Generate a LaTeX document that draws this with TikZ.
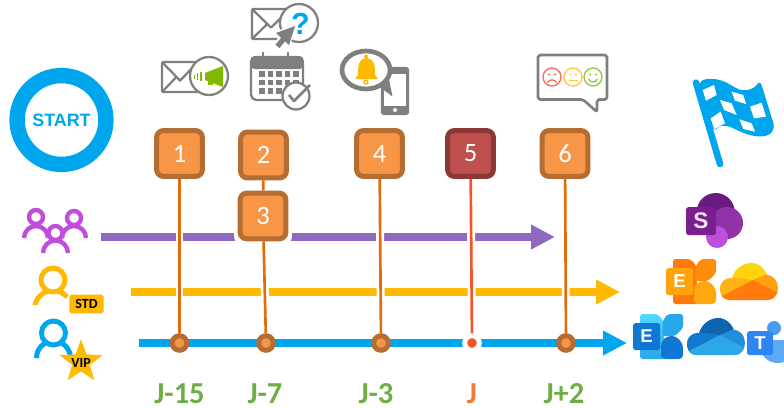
\documentclass[tikz,border=0pt]{standalone}
\usepackage{fontspec}
\setmainfont{Carlito}
\newfontfamily\arialfont{Liberation Sans}
\usetikzlibrary{arrows.meta,backgrounds,shapes.geometric}

\definecolor{startblue}{HTML}{00A6ED}
\definecolor{stdgold}{HTML}{FFB900}
\definecolor{allpurple}{HTML}{8E69BF}
\definecolor{grouppink}{HTML}{BE4FDC}
\definecolor{boxfill}{HTML}{F79646}
\definecolor{boxedge}{HTML}{B66D31}
\definecolor{redfill}{HTML}{C0504D}
\definecolor{rededge}{HTML}{8C3836}
\definecolor{stemorange}{HTML}{E36C0A}
\definecolor{stemred}{HTML}{F5532A}
\definecolor{iconGrey}{HTML}{7F7F7F}
\definecolor{dategreen}{HTML}{70AD47}
\definecolor{dateorange}{HTML}{ED7D31}
\definecolor{hornGreen}{HTML}{7FBA00}
\definecolor{sadRed}{HTML}{F0705A}
\definecolor{midYellow}{HTML}{FFC83D}
\definecolor{happyGreen}{HTML}{92C83E}
\definecolor{siteDark}{HTML}{6A1B82}
\definecolor{siteMid}{HTML}{9332A8}
\definecolor{siteTile}{HTML}{7B1E8E}
\definecolor{orLeft}{HTML}{FF7A0A}
\definecolor{orTop}{HTML}{FF8C0A}
\definecolor{orLow}{HTML}{FFA70F}
\definecolor{orTile}{HTML}{FFA30E}
\definecolor{cloudA}{HTML}{FFD40C}
\definecolor{cloudB}{HTML}{FFB318}
\definecolor{cloudC}{HTML}{FFA012}
\definecolor{cloudD}{HTML}{FF7B0D}
\definecolor{bluLight}{HTML}{50D9FF}
\definecolor{bluTop}{HTML}{28A8EA}
\definecolor{bluLow}{HTML}{0F78D4}
\definecolor{skyA}{HTML}{0F64AE}
\definecolor{skyB}{HTML}{1279CE}
\definecolor{skyC}{HTML}{1F8FDD}
\definecolor{skyD}{HTML}{2CA7E8}
\definecolor{chatHead}{HTML}{4A9AF0}
\definecolor{chatBody}{HTML}{5EAAF5}
\definecolor{chatTile}{HTML}{2F86F2}

\tikzset{
  stepbox/.style={draw=boxedge,fill=boxfill,line width=3.75pt,rounded corners=5pt,
    minimum size=34.5pt,inner sep=0pt,text=white,font=\fontsize{20}{20}\selectfont},
  redbox/.style={stepbox,draw=rededge,fill=redfill},
  haloback/.style={fill=white,rounded corners=6pt,minimum size=43.5pt,inner sep=0pt},
  datedot/.style={circle,draw=boxedge,fill=boxfill,line width=3.75pt,minimum size=11pt,inner sep=0pt},
  reddot/.style={circle,draw=white,fill=stemred,line width=3.75pt,minimum size=11pt,inner sep=0pt,outer sep=0pt},
  stem/.style={line width=2pt,stemorange,preaction={draw=white,line width=6pt}},
  track/.style={line width=6pt},
  datelabel/.style={text=dategreen,inner sep=0pt,font=\fontsize{23}{23}\selectfont\bfseries},
  tagtext/.style={inner sep=0pt,font=\fontsize{10.5}{10.5}\selectfont\bfseries},
  icon/.style={draw=iconGrey,line width=1.7pt,line join=round},
}

% person: x, base y, body radius, end angle, head radius, head y, line width, colour
\newcommand{\usericon}[8]{%
  \draw[#8,line width=#7pt,preaction={draw=white,line width=#7pt+2.5pt}] ({#1-#3},#2) arc (180:#4:#3);
  \draw[#8,line width=#7pt,fill=white] (#1,#6) circle [radius=#5];
}
% envelope with a round badge
\newcommand{\mailicon}[4]{%
  \draw[icon,rounded corners=1pt] (#1,#2) rectangle ({#1+#3},{#2+#4});
  \draw[icon] (#1,#2) -- ({#1+#3/2},{#2+#4*0.62}) -- ({#1+#3},#2);
  \draw[icon] (#1,{#2+#4}) -- ({#1+#3*0.4},{#2+#4*0.5});
}
% smiley
\newcommand{\facemark}[5]{%
  \begin{scope}[shift={(#1,#2)},#3,line width=1pt]
    \draw (0,0) circle [radius=9];
    \fill (-3,-2.5) circle [radius=1.2];
    \fill (3,-2.5) circle [radius=1.2];
    \draw (-4.5,#4) .. controls (-2,#5) and (2,#5) .. (4.5,#4);
  \end{scope}
}
% cloud logo
\newcommand{\cloudlogo}[6]{%
  \begin{scope}[shift={(#1,#2)}]
    \clip (9,37) .. controls (3,37) and (0,31) .. (0,26) .. controls (0,19) and (5,15) .. (12,15)
      .. controls (15,5) and (24,0) .. (31,0) .. controls (39,0) and (44,5) .. (47,12)
      .. controls (53,12) and (58,18) .. (58,25) .. controls (58,32) and (53,37) .. (48,37) -- cycle;
    \fill[#3] (0,0) rectangle (58,37);
    \fill[#4] (0,10) -- (12,14) -- (33,17) -- (0,34) -- cycle;
    \fill[#5] (33,17) -- (47,11) -- (58,15) -- (58,30) -- cycle;
    \fill[#6] (0,34) -- (33,17) -- (58,30) -- (58,37) -- (0,37) -- cycle;
  \end{scope}
}
% mail server logo
\newcommand{\serverlogo}[7]{%
  \begin{scope}[shift={(#1,#2)}]
    \path[#3,rounded corners=2pt] (0,0) -- (17,0) -- (23,6) -- (25,45) -- (0,45) -- cycle;
    \fill[#4,rounded corners=2pt] (23,6) -- (28,0) -- (43,0) -- (43,14) -- (35,22) -- (22,22) -- cycle;
    \fill[#5,rounded corners=3pt] (27,22) -- (36,22) -- (43,30) -- (43,45) -- (21,45) -- (21,28) -- cycle;
    \fill[#6,rounded corners=1.5pt] (-7,9) rectangle (20,36);
    \node[text=white,font=\arialfont\bfseries\fontsize{14}{14}\selectfont] (#7) at (6.5,22.5) {E};
  \end{scope}
}

\begin{document}
\begin{tikzpicture}[x=0.0265cm,y=-0.0265cm,>={Triangle[length=18pt,width=17.5pt]}]
\useasboundingbox (0,0) rectangle (784,407);

% Start
\node[circle,draw=startblue,line width=11.6pt,minimum size=67pt,inner sep=0pt,text=startblue,
  font=\arialfont\bfseries\fontsize{13.5}{13.5}\selectfont] (start) at (61.5,120) {START};

% Step boxes
\node[stepbox] (n1) at (179.5,153.5) {1};
\node[stepbox] (n2) at (263.5,155) {2};
\node[stepbox] (n3) at (263,216) {3};
\node[stepbox] (n4) at (379.5,153.5) {4};
\node[redbox] (n5) at (470.5,153.5) {5};
\node[stepbox] (n6) at (565,153.5) {6};

% Dots on the timeline
\node[datedot] (d1) at (179.5,343) {};
\node[datedot] (d2) at (266,343) {};
\node[datedot] (d4) at (381,343) {};
\node[reddot] (d5) at (472,343) {};
\node[datedot] (d6) at (566,343) {};

% Track ends
\coordinate (groupstart) at (101,237);
\coordinate (groupend) at (555,237);
\coordinate (stdstart) at (131,292);
\coordinate (stdend) at (620,292);
\coordinate (vipstart) at (139,343);
\coordinate (vipend) at (627,343);

\begin{scope}[on background layer]
\draw[track,allpurple,->] (groupstart) -- (groupend);
\draw[track,stdgold,->] (stdstart) -- (stdend);
\draw[track,startblue,->] (vipstart) -- (vipend);
\node[haloback] (halo3) at (263,216) {};
\draw[stem] (n1) -- (d1);
\draw[stem] (n2) -- (n3);
\draw[stem] (n3) -- (d2);
\draw[stem] (n4) -- (d4);
\draw[stem,stemred] (n5) -- (d5);
\draw[stem] (n6) -- (d6);
\end{scope}

% Dates
\node[datelabel] (j15) at (179.5,393.5) {J-15};
\node[datelabel] (j7) at (265,393.5) {J-7};
\node[datelabel] (j3) at (376,393.5) {J-3};
\node[datelabel,text=dateorange] (j0) at (472,393.5) {J};
\node[datelabel] (j2) at (564,393.5) {J+2};

% Users
\usericon{36}{238}{12}{360}{7}{217}{3.3}{grouppink}
\usericon{74}{238}{12}{360}{7}{218}{3.3}{grouppink}
\usericon{55.5}{253}{12.5}{360}{7}{233}{3.3}{grouppink}
\begin{scope}
\clip (20,262) rectangle (110,304);
\usericon{53}{309}{18.5}{320}{12}{280}{3.75}{stdgold}
\end{scope}
\node[fill=stdgold,rounded corners=1.5pt,minimum width=26pt,minimum height=14pt,
  tagtext] (std) at (86.5,304) {STD};
\usericon{53.5}{358}{17}{360}{12}{333}{3.75}{startblue}
\node[star,star points=5,star point ratio=2.4,fill=stdgold,minimum size=34pt,inner sep=0pt] (vipstar) at (81,362) {};
\node[tagtext] (vip) at (81,362.5) {VIP};

% Mail with megaphone
\mailicon{162}{62}{36}{30}
\draw[icon,fill=white] (209,76) circle [radius=19];
\fill[hornGreen] (205,73) -- (223,66) -- (223,87) -- (205,80) -- cycle;
\fill[hornGreen] (208,79) rectangle (213,85);
\draw[hornGreen,line width=1pt] (201,72) -- (201,81) (197.5,73) -- (197.5,80) (194.5,74.5) -- (194.5,78.5);

% Mail with question mark
\mailicon{252}{9}{38}{30}
\draw[icon,fill=white] (299,23) circle [radius=19];
\node[text=startblue,font=\arialfont\bfseries\fontsize{23}{23}\selectfont,inner sep=0pt] (askmark) at (300.5,24) {?};
\fill[white] (273,32) -- (295,25) -- (290,48) -- cycle;
\draw[white,line width=7pt] (283,39) -- (277,47);
\draw[iconGrey,line width=4pt] (285,37) -- (277.5,46.5);
\fill[iconGrey] (295,26) -- (276,33) -- (289,45) -- cycle;

% Calendar
\draw[icon,fill=white,rounded corners=4pt] (251,57) rectangle (303,100);
\fill[iconGrey,rounded corners=3pt] (250.5,56) -- (303.5,56) -- (303.5,69) -- (250.5,69) -- cycle;
\draw[iconGrey,line width=1pt] (263,52) -- (263,58) (288,52) -- (288,58);
\foreach \col in {0,...,4}
  \foreach \row in {0,1,2}
    \fill[iconGrey] ({259+\col*8.6},{71+\row*8.6}) rectangle ++(5.6,5.6);
\draw[icon,fill=white] (296,96) circle [radius=13.5];
\draw[icon,line width=2pt] (289,95) -- (294,101) -- (310,85);

% Bell and phone
\draw[iconGrey,line width=1pt,fill=iconGrey,rounded corners=2pt] (381.5,67.5) rectangle (408.5,114.5);
\fill[white] (384,74) rectangle (406,106);
\fill[white] (395,110) circle [radius=2];
\draw[iconGrey,line width=3.5pt,fill=white] (366,70) ellipse [x radius=24,y radius=19];
\draw[iconGrey,line width=3.5pt,line cap=round] (381,85) -- (389,91) -- (387,81);
\fill[stdgold] (355,79) -- (358,75) .. controls (358,64) and (359,59) .. (366.5,58)
  .. controls (374,59) and (375,64) .. (375,75) -- (378,79) -- cycle;
\fill[stdgold] (366,56.5) circle [radius=2];
\draw[stdgold,line width=1pt] (366,82) circle [radius=2];

% Feedback
\draw[icon,line width=2pt,fill=white,rounded corners=1.5pt] (538,55) -- (607,55) -- (607,99.5) -- (597,99.5)
  -- (597,112) -- (583,99.5) -- (538,99.5) -- cycle;
\facemark{552}{77}{sadRed}{5.5}{2}
\facemark{573}{77}{midYellow}{3.5}{3.5}
\facemark{593}{77}{happyGreen}{2}{6}

% Finish flag
\begin{scope}[shift={(620,60)},scale=1/3]
\draw[startblue,line width=5pt,line cap=round] (228,68) -- (300,312);
\fill[startblue,rounded corners=4pt] (232,72) .. controls (260,52) and (300,55) .. (340,80)
  .. controls (370,95) and (400,90) .. (420,60) -- (465,205) .. controls (440,235) and (400,232) .. (350,210)
  .. controls (320,195) and (300,195) .. (282,217) -- cycle;
\fill[white] (248,90) -- (282,75) -- (290,105) -- (258,122) -- cycle;
\fill[white] (335,95) -- (370,105) -- (378,132) -- (345,122) -- cycle;
\fill[white] (300,120) -- (335,130) -- (350,165) -- (312,150) -- cycle;
\fill[white] (390,140) -- (425,128) -- (438,170) -- (402,175) -- cycle;
\fill[white] (272,175) -- (302,155) -- (315,190) -- (283,208) -- cycle;
\fill[white] (358,178) -- (395,190) -- (405,215) -- (370,207) -- cycle;
\end{scope}

% Site logo
\fill[siteDark] (715.7,212) circle [radius=19];
\fill[siteMid] (727,223) circle [radius=16];
\fill[grouppink] (717,237) circle [radius=11];
\fill[siteTile,rounded corners=1.5pt] (686,207) rectangle (716,235);
\node[text=white!85!grouppink,font=\arialfont\bfseries\fontsize{17}{17}\selectfont,inner sep=0pt] (site) at (701,221) {S};

% Standard logos
\serverlogo{673}{259}{fill=orLeft}{orTop}{orLow}{orTile}{stdmail}
\cloudlogo{720}{263}{cloudA}{cloudB}{cloudC}{cloudD}

% VIP logos
\serverlogo{640}{314}{top color=bluLight,bottom color=bluTop}{bluTop}{bluLow}{bluLow}{vipmail}
\cloudlogo{687}{318}{skyA}{skyB}{skyC}{skyD}
\fill[chatHead] (774,328) circle [radius=7];
\fill[chatBody] (759,340) -- (784,340) -- (784,362) .. controls (775,365) and (762,362) .. (759,345) -- cycle;
\fill[chatTile,rounded corners=1.5pt] (747,331) rectangle (773,355);
\node[text=white,font=\arialfont\bfseries\fontsize{14}{14}\selectfont,inner sep=0pt] (chat) at (760,343) {T};
\end{tikzpicture}
\end{document}
